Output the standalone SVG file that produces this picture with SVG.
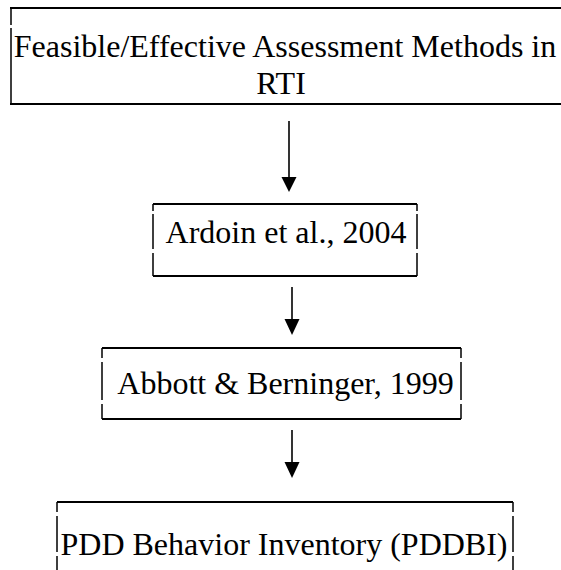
<svg xmlns="http://www.w3.org/2000/svg" width="561" height="570" viewBox="0 0 561 570">
<style>
.hl{stroke:#000;stroke-width:2;fill:none}
.vl{stroke:#000;stroke-width:1.5;fill:none}
.t{font-family:"Liberation Serif","Times New Roman",serif;font-size:32px;fill:#000;text-anchor:middle}
.ar{stroke:#000;stroke-width:1.6;fill:none}
.hd{fill:#000}
</style>
<rect width="561" height="570" fill="#fff"/>
<g id="node1">
<path class="hl" d="M10,8 H570 M10,104 H570"/>
<path class="vl" d="M11,8 V25 M11,28 V103"/>
<text class="t" x="285" y="57">Feasible/Effective Assessment Methods in</text>
<text class="t" x="281" y="94">RTI</text>
</g>
<g id="node2">
<path class="hl" d="M153,204 H417 M153,276 H417"/>
<path class="vl" d="M153,204 V211 M153,214 V249 M153,253 V276 M417,204 V211 M417,214 V249 M417,253 V276"/>
<text class="t" x="286" y="243">Ardoin et al., 2004</text>
</g>
<g id="node3">
<path class="hl" d="M102,348 H461 M102,419 H461"/>
<path class="vl" d="M102,348 V358 M102,362 V400 M102,404 V419 M461,348 V358 M461,362 V400 M461,404 V419"/>
<text class="t" x="285.5" y="394">Abbott &amp; Berninger, 1999</text>
</g>
<g id="node4">
<path class="hl" d="M57,502 H513"/>
<path class="vl" d="M57,502 V512 M57,516 V552 M57,556 V570 M513,502 V512 M513,516 V552 M513,556 V570"/>
<text class="t" x="284" y="555">PDD Behavior Inventory (PDDBI)</text>
</g>
<g id="connectors">
<path class="ar" d="M289,121 V178"/>
<polygon class="hd" points="281.5,177 296.5,177 289,192"/>
<path class="ar" d="M292,287 V320"/>
<polygon class="hd" points="284.5,319 299.5,319 292,335"/>
<path class="ar" d="M292,430 V463"/>
<polygon class="hd" points="284.5,462 299.5,462 292,478"/>
</g>
</svg>
